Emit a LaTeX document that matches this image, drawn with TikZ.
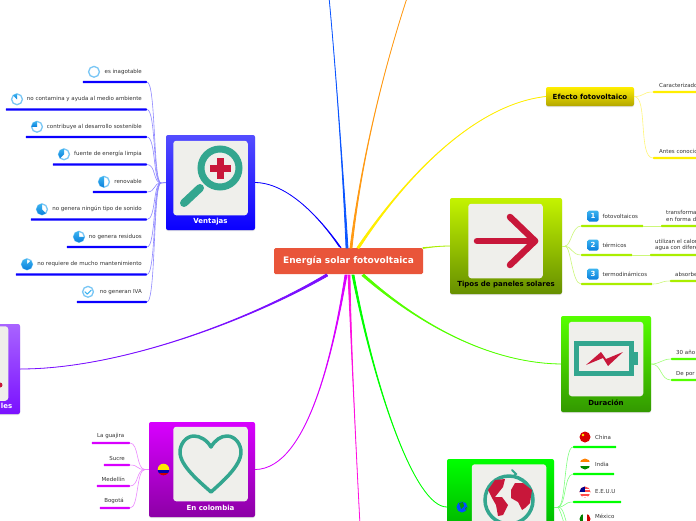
\documentclass[tikz,border=0pt]{standalone}
\usepackage{fontspec}
\setmainfont{DejaVu Sans}
\usepackage{xcolor}
\usetikzlibrary{calc,positioning,shadows}
\definecolor{rootred}{HTML}{E9553A}
\definecolor{cardbg}{HTML}{EFEFEB}
\definecolor{iconteal}{HTML}{33A68F}
\definecolor{iconred}{HTML}{C8173A}
\definecolor{labelgray}{HTML}{333333}
\definecolor{ventblue}{HTML}{0A00FF}
\definecolor{ventline}{HTML}{8F88FF}
\definecolor{topblue}{HTML}{0A55FF}
\definecolor{toporange}{HTML}{FF9A14}
\definecolor{efyellow}{HTML}{FFEE00}
\definecolor{efline}{HTML}{FFF67A}
\definecolor{tipgreen}{HTML}{AAEE00}
\definecolor{tipline}{HTML}{CCF77A}
\definecolor{durgreen}{HTML}{55FF00}
\definecolor{durline}{HTML}{A0FF78}
\definecolor{mungreen}{HTML}{00FF00}
\definecolor{munline}{HTML}{80FF80}
\definecolor{pinkroot}{HTML}{FF10E0}
\definecolor{colpurple}{HTML}{D800FF}
\definecolor{colline}{HTML}{EC88FF}
\definecolor{violetx}{HTML}{7A10FF}
\definecolor{ringblue}{HTML}{78C6F5}
\definecolor{pietop}{HTML}{3CB4F0}
\definecolor{piebot}{HTML}{0A7FDC}
\tikzset{
  rootbox/.style={rounded corners=1.5pt,fill=rootred,text=white,font=\bfseries\fontsize{9}{10}\selectfont,minimum width=149,minimum height=26,inner sep=0pt},
  card/.style={rounded corners=2pt,inner sep=0pt,drop shadow={opacity=.25,shadow xshift=0pt,shadow yshift=-1pt}},
  cardin/.style={rounded corners=3pt,fill=cardbg,inner sep=0pt,minimum size=74.5},
  cardtxt/.style={font=\bfseries\fontsize{7}{8}\selectfont,inner sep=0pt},
  bar/.style={inner sep=0pt,minimum height=2.3,rounded corners=.5pt},
  leaflbl/.style={font=\fontsize{5.5}{6.6}\selectfont,text=labelgray,inner sep=0pt,align=left},
  twig/.style={line width=.6pt},
  numbox/.style={rounded corners=1.5pt,top color=pietop,bottom color=piebot,text=white,font=\bfseries\fontsize{7}{8}\selectfont,minimum size=11,inner sep=0pt}
}
% tapered main branch: colour, start, half width, control, control, end
\newcommand{\limb}[6]{\draw[#1,fill=#1,line width=.8pt,line join=round] ($(#2)+(#3)$) .. controls (#4) and (#5) .. (#6) .. controls (#5) and (#4) .. ($(#2)-(#3)$) -- cycle;}
\begin{document}
\begin{tikzpicture}[x=1pt,y=-1pt]
\useasboundingbox (0,0) rectangle (696,520);
\clip (0,0) rectangle (696,520);
\fill[white] (0,0) rectangle (696,520);

% root and cards
\node[rootbox] (root) at (348.5,261) {Energía solar fotovoltaica};
\node[card,top color=ventblue!70!white,bottom color=ventblue,minimum width=89,minimum height=95] (ventajas) at (210.5,182.5) {};
\node[cardin] (ventajasin) at (210.5,178) {};
\node[cardtxt,text=white] (ventajastxt) at (210.5,222) {Ventajas};
\node[card,top color=tipgreen!70!yellow,bottom color=tipgreen!60!black,minimum width=112,minimum height=96] (tipos) at (506,246) {};
\node[cardin] (tiposin) at (505.5,241) {};
\node[cardtxt] (tipostxt) at (506,284.5) {Tipos de paneles solares};
\node[card,top color=efyellow,bottom color=efyellow!70!black,minimum width=88,minimum height=19] (efecto) at (590,96.5) {};
\node[cardtxt] (efectotxt) at (590,96.5) {Efecto fotovoltaico};
\node[card,top color=durgreen,bottom color=durgreen!60!black,minimum width=90,minimum height=96] (duracion) at (606,364) {};
\node[cardin] (duracionin) at (606,359) {};
\node[cardtxt] (duraciontxt) at (606,402.5) {Duración};
\node[card,top color=mungreen,bottom color=mungreen!60!black,minimum width=107,minimum height=96] (mundo) at (500.5,507) {};
\node[cardin] (mundoin) at (509,501.5) {};
\node[card,top color=colpurple,bottom color=colpurple!65!black,minimum width=106,minimum height=95] (colombia) at (202,469.5) {};
\node[cardin] (colombiain) at (210.5,464) {};
\node[cardtxt,text=white] (colombiatxt) at (210.5,507.5) {En colombia};
\node[card,top color=violetx!65!white,bottom color=violetx,minimum width=89,minimum height=90] (otros) at (-24.5,369) {};
\node[cardin] (otrosin) at (-29,363.5) {};
\node[cardtxt,text=white,anchor=east] (otrostxt) at (12.5,405.5) {les};
\fill[iconred] (0,385) circle[radius=2.5pt];

% main branches
\coordinate (offblue) at (329,-3);
\coordinate (offorange) at (408,-5);
\coordinate (offpink) at (360,525);
\limb{ventblue}{340,247}{1,.6}{320,218}{288,183}{ventajas.east}
\limb{topblue}{347,248}{1,0}{343,170}{335,60}{offblue}
\limb{toporange}{351,248}{1,0}{360,170}{380,80}{offorange}
\limb{efyellow}{358,248}{1,.5}{400,185}{470,105}{efecto.west}
\limb{tipgreen}{423,248}{0,.4}{432,247}{440,246}{tipos.west}
\limb{durgreen}{363,275}{1,-.7}{420,325}{490,363}{duracion.west}
\limb{mungreen}{353,275}{1,0}{375,390}{415,507}{mundo.west}
\limb{pinkroot}{349,275}{1,0}{351,340}{355,430}{offpink}
\limb{colpurple}{346,275}{1,0}{335,340}{310,469}{colombia.east}
\limb{violetx}{327,275}{.6,1}{250,320}{120,369}{otros.east}

% Ventajas leaves
\coordinate (vjoin) at (161,183);
\draw[ventline,line width=1pt] (ventajas.west) -- (vjoin);
\foreach \i/\xa/\xc/\txt in {1/83/94/es inagotable,2/6/17/no contamina y ayuda al medio ambiente,3/26/37/contribuye al desarrollo sostenible,4/53/64/fuente de energía limpia,5/93/104/renovable,6/31/42/no genera ningún tipo de sonido,7/67/79/no genera residuos,8/16/27/no requiere de mucho mantenimiento,9/77/88/no generan IVA}{
  \pgfmathsetmacro\yb{82+27.5*(\i-1)}
  \pgfmathsetmacro\yc{\yb-10.2}
  \pgfmathsetmacro\dang{45*(\i-1)}
  \node[bar,fill=ventblue,minimum width={147-\xa},anchor=east] (v\i) at (147,\yb) {};
  \node[leaflbl,anchor=east] (v\i txt) at (142,\yc) {\txt};
  \draw[twig,ventline] (vjoin) .. controls (153,183) and (156,\yb) .. (v\i.east);
  \filldraw[draw=ringblue,fill=white,line width=1.3pt] (\xc,\yc) circle[radius=5.4pt];
  \ifnum\i>1\ifnum\i<9
    \shade[top color=pietop,bottom color=piebot] (\xc,\yc) -- ++(90:5.6pt) arc[start angle=90,delta angle=\dang,radius=5.6pt] -- cycle;
  \fi\fi
  \ifnum\i=9
    \draw[pietop,line width=1pt,line cap=round,line join=round] (\xc-3,\yc) -- ++(2.2,2.3) -- ++(4,-4);
  \fi
}

% magnifier
\draw[iconteal,line width=7pt] (220,168) circle[radius=19pt];
\draw[iconteal,line width=8pt,line cap=round] (200,188) -- (184,203);
\fill[iconred] (217,158) rectangle (223.5,178.5);
\fill[iconred] (210,165) rectangle (230.5,171.5);

% Tipos de paneles
\draw[iconred,line width=6.5pt,line cap=round,line join=round] (477,241) -- (535,241);
\draw[iconred,line width=6.5pt,line cap=round,line join=round] (510,217) -- (535,241) -- (510,265);
\coordinate (tjoin) at (565,246);
\draw[tipline,line width=1pt] (tipos.east) -- (tjoin);
\foreach \i/\xb/\yb/\txt in {1/643/226/fotovoltaicos,2/632/255/térmicos,3/652/284/termodinámicos}{
  \pgfmathsetmacro\yc{\yb-10}
  \node[bar,fill=tipgreen,minimum width={\xb-581},anchor=west] (t\i) at (581,\yb) {};
  \node[numbox] (n\i) at (593,\yc) {\i};
  \node[leaflbl,anchor=west] (t\i txt) at (602.5,\yc) {\txt};
  \draw[twig,tipline] (tjoin) .. controls (571,246) and (572,\yb) .. (t\i.west);
}
\node[bar,fill=tipgreen,minimum width=50,anchor=west] (ta1) at (661,226) {};
\node[bar,fill=tipgreen,minimum width=60,anchor=west] (ta2) at (650,255) {};
\node[bar,fill=tipgreen,minimum width=40,anchor=west] (ta3) at (670,281) {};
\draw[twig,tipline] (t1.east) -- (ta1.west);
\draw[twig,tipline] (t2.east) -- (ta2.west);
\draw[twig,tipline] (t3.east) .. controls (662,284) and (660,281) .. (ta3.west);
\node[leaflbl,anchor=west] (ta1txt) at (666,216) {transforma\\en forma d};
\node[leaflbl,anchor=west] (ta2txt) at (655,245) {utilizan el calor\\agua con difere};
\node[leaflbl,anchor=west] (ta3txt) at (675,274) {absorbe};

% Efecto leaves
\node[bar,fill=efyellow,minimum width=60,anchor=west] (e1) at (653,92) {};
\node[bar,fill=efyellow,minimum width=60,anchor=west] (e2) at (653,158) {};
\node[leaflbl,anchor=west] (e1txt) at (659,85) {Caracterizado};
\node[leaflbl,anchor=west] (e2txt) at (659,151) {Antes conocic};
\draw[twig,efline] (efecto.east) .. controls (645,96.5) and (642,92) .. (e1.west);
\draw[twig,efline] (efecto.east) .. controls (648,96.5) and (638,158) .. (e2.west);

% battery
\draw[iconteal,line width=5pt] (576.5,343.5) rectangle (631.5,373.5);
\fill[iconteal] (634,352) rectangle (638,365);
\fill[iconred] (586,365) -- (601,352) -- (606,359) -- (623,352) -- (608,366) -- (603,358) -- cycle;
\node[bar,fill=durgreen,minimum width=40,anchor=west] (d1) at (671,359) {};
\node[bar,fill=durgreen,minimum width=40,anchor=west] (d2) at (671,380) {};
\node[leaflbl,anchor=west] (d1txt) at (676,352) {30 año};
\node[leaflbl,anchor=west] (d2txt) at (676,374) {De por};
\draw[twig,durline] (duracion.east) .. controls (660,364) and (662,359) .. (d1.west);
\draw[twig,durline] (duracion.east) .. controls (662,364) and (660,380) .. (d2.west);

% globe
\draw[iconteal,line width=3.5pt] (509,500) circle[radius=24pt];
\draw[iconteal,line width=2pt,line cap=round] (512,470) -- (516,474) -- (513,477);
\fill[iconred] (488,490) -- (495,480) -- (505,479) -- (503,487) -- (495,497) -- (502,497) -- (508,505) -- (503,515) -- (498,516) -- (496,505) -- (492,498) -- cycle;
\fill[iconred] (511,490) -- (515,483) -- (523,483) -- (532,490) -- (530,503) -- (525,508) -- (522,510) -- (518,502) -- (511,498) -- cycle;
\fill[blue!70!cyan] (462,507) circle[radius=5.5pt];
\fill[green!60!black] (459,503) -- (463,502) -- (464,506) -- (461,509) -- cycle;
\fill[green!60!black] (465,508) -- (467,507) -- (466,511) -- cycle;

% Mundo leaves
\coordinate (mjoin) at (558,507);
\coordinate (moffa) at (566,530);
\draw[munline,line width=1pt] (mundo.east) -- (mjoin);
\foreach \i/\xb/\yb/\yc/\txt in {1/616/447/437/China,2/614/474/464/India,3/621/502/492/E.E.U.U,4/610/529/516.5/México}{
  \node[bar,fill=mungreen,minimum width={\xb-573},anchor=west] (m\i) at (573,\yb) {};
  \node[leaflbl,anchor=west] (m\i txt) at (595,\yc) {\txt};
  \draw[twig,munline] (mjoin) .. controls (566,507) and (564,\yb) .. (m\i.west);
}
\draw[twig,munline] (mjoin) .. controls (561,512) and (563,520) .. (moffa);
% flags
\begin{scope}
  \clip (585,437) circle[radius=5.5pt];
  \fill[red!85!black] (578,430) rectangle (592,444);
  \fill[yellow] (583,435) circle[radius=1.3pt];
\end{scope}
\begin{scope}
  \clip (585,464) circle[radius=5.5pt];
  \fill[orange] (578,458) rectangle (592,462.3);
  \fill[white] (578,462.3) rectangle (592,466);
  \fill[green!55!black] (578,466) rectangle (592,471);
\end{scope}
\begin{scope}
  \clip (585,492) circle[radius=5.5pt];
  \fill[red!70!white] (578,485) rectangle (592,499);
  \fill[white] (578,488.5) rectangle (592,490);
  \fill[white] (578,492) rectangle (592,493.5);
  \fill[white] (578,495.5) rectangle (592,497);
  \fill[blue!55!black] (578,485) rectangle (585,492);
\end{scope}
\begin{scope}
  \clip (585,519) circle[radius=5.5pt];
  \fill[green!50!black] (578,512) rectangle (583.2,526);
  \fill[white] (583.2,512) rectangle (586.8,526);
  \fill[red!80!black] (586.8,512) rectangle (592,526);
\end{scope}

% heart
\draw[iconteal,line width=3.5pt,line join=round] (211,447) .. controls (207,440) and (200,436) .. (194,436) .. controls (186,436) and (180,444) .. (180,452) .. controls (180,466) and (200,482) .. (211,492) .. controls (222,482) and (241,466) .. (241,452) .. controls (241,444) and (235,436) .. (227,436) .. controls (221,436) and (215,440) .. (211,447) -- cycle;
\begin{scope}
  \clip (163.5,469.5) circle[radius=5.8pt];
  \fill[yellow!90!orange] (157,463) rectangle (170,469.5);
  \fill[blue!70!black] (157,469.5) rectangle (170,472.5);
  \fill[red!80!black] (157,472.5) rectangle (170,476);
\end{scope}

% Colombia leaves
\coordinate (cjoin) at (145,469.5);
\draw[colline,line width=1pt] (colombia.west) -- (cjoin);
\foreach \i/\xa/\xt/\yb/\txt in {1/92/124.5/443/La guajira,2/104/125/465/Sucre,3/97/125/486/Medellín,4/100/124/508/Bogotá}{
  \pgfmathsetmacro\yc{\yb-7}
  \node[bar,fill=colpurple,minimum width={130-\xa},anchor=east] (c\i) at (130,\yb) {};
  \node[leaflbl,anchor=east] (c\i txt) at (\xt,\yc) {\txt};
  \draw[twig,colline] (cjoin) .. controls (136,469.5) and (139,\yb) .. (c\i.east);
}
\end{tikzpicture}
\end{document}
